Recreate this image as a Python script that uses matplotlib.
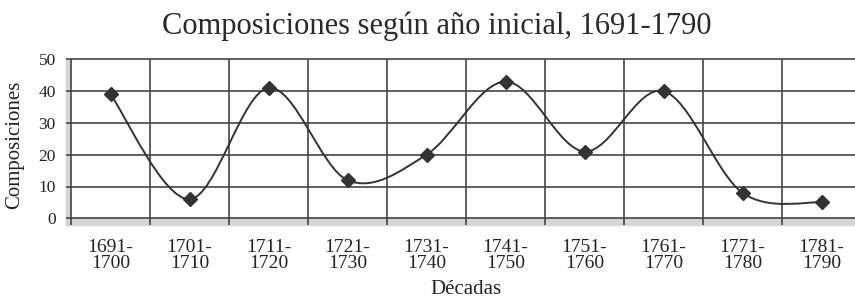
import matplotlib
matplotlib.use("Agg")
import matplotlib.pyplot as plt
from matplotlib.path import Path
from matplotlib.patches import PathPatch, Rectangle

plt.rcParams['font.family'] = ['Liberation Serif', 'DejaVu Serif']

decades = ["1691-\n1700", "1701-\n1710", "1711-\n1720", "1721-\n1730", "1731-\n1740",
           "1741-\n1750", "1751-\n1760", "1761-\n1770", "1771-\n1780", "1781-\n1790"]
composiciones = [39, 6, 41, 12, 20, 43, 21, 40, 8, 5]
yticks = [0, 10, 20, 30, 40, 50]

ink = '#333333'
grid = '#444444'
floor = '#d6d6d6'

fig = plt.figure(figsize=(8.55, 3.0), dpi=100)
ax = fig.add_axes([71 / 855, 81.7 / 300, 790 / 855, 159 / 300])
ax.set_xlim(-0.5, 9.5)
ax.set_ylim(0, 50)

# floor and side wall (the 3D look of the original)
fig.add_artist(Rectangle((66 / 855, 75 / 300), 795 / 855, 6.7 / 300,
                         transform=fig.transFigure, color=floor, zorder=0))
fig.add_artist(Rectangle((66 / 855, 75 / 300), 5 / 855, 166 / 300,
                         transform=fig.transFigure, color=floor, zorder=0))

for s in ax.spines.values():
    s.set_visible(False)

n = len(composiciones)
ax.hlines(yticks, -0.565, 9.5, colors=grid, lw=1.2, clip_on=False, zorder=1)
ax.vlines([i - 0.5 for i in range(n + 1)], -2.1, 50, colors=grid, lw=1.2,
          clip_on=False, zorder=1)

# smoothed line (Catmull-Rom as bezier segments)
pts = list(zip(range(n), composiciones))
verts = [pts[0]]
codes = [Path.MOVETO]
for i in range(n - 1):
    p0 = pts[max(i - 1, 0)]
    p1 = pts[i]
    p2 = pts[i + 1]
    p3 = pts[min(i + 2, n - 1)]
    c1 = (p1[0] + (p2[0] - p0[0]) / 6, p1[1] + (p2[1] - p0[1]) / 6)
    c2 = (p2[0] - (p3[0] - p1[0]) / 6, p2[1] - (p3[1] - p1[1]) / 6)
    verts += [c1, c2, p2]
    codes += [Path.CURVE4] * 3
ax.add_patch(PathPatch(Path(verts, codes), fill=False, edgecolor=ink, lw=1.4, zorder=3))
ax.plot(range(n), composiciones, linestyle='none', marker='D', ms=7, color=ink, zorder=4)

ax.set_xticks(range(n))
ax.set_xticklabels(decades, fontsize=14, linespacing=0.95)
ax.set_yticks(yticks)
ax.set_yticklabels([str(v) for v in yticks], fontsize=12.5)
ax.tick_params(axis='x', length=0, pad=15, colors='#222222')
ax.tick_params(axis='y', length=0, pad=11, colors='#222222')

fig.text(466 / 855, 10 / 300, "Décadas", ha='center', va='center', fontsize=15, color='#222222')
fig.text(15 / 855, 155 / 300, "Composiciones", rotation=90, ha='center', va='center',
         fontsize=15, color='#222222')
fig.text(437 / 855, 274 / 300, "Composiciones según año inicial, 1691-1790",
         ha='center', va='center', fontsize=22, color='#2a2a2a')

fig.savefig("out.png", dpi=100)
